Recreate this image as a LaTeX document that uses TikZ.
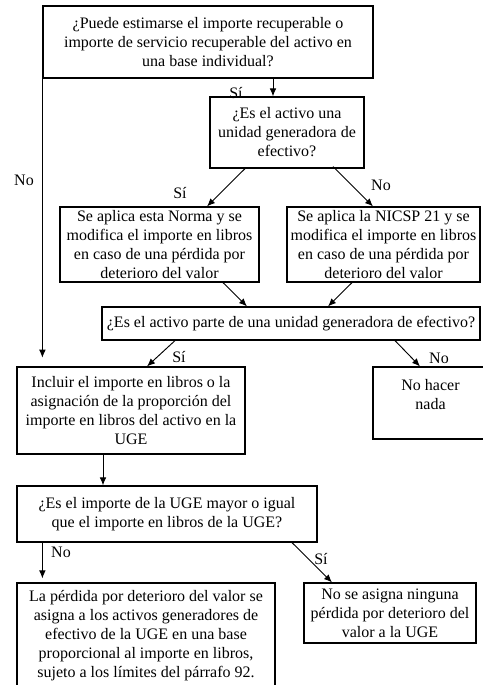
\documentclass[tikz,border=0pt]{standalone}
\usepackage{fontspec}
\setmainfont{Liberation Serif}
\usepackage{tikz}
\usetikzlibrary{arrows.meta,calc}

\begin{document}
\begin{tikzpicture}[x=0.75pt,y=-0.75pt,  box/.style={draw, line width=0.9pt, align=center, inner sep=1pt, font=\fontsize{12}{14.25}\selectfont},  arr/.style={line width=0.7pt, -{Latex[length=6pt,width=5pt]}},  lab/.style={font=\fontsize{12}{14.25}\selectfont}]
\useasboundingbox (0,0) rectangle (482,685);
%%%%%%%%%%%%%%%%%%%%%%%%%%%%%%%%%%%%%%%%%%%%%%%%%%
% boxes
%%%%%%%%%%%%%%%%%%%%%%%%%%%%%%%%%%%%%%%%%%%%%%%%%%
  \node[box, minimum width=247.5pt, minimum height=54pt] (q1) at (208,42)
    {¿Puede estimarse el importe recuperable o\\importe de servicio recuperable del activo en\\una base individual?};
  \node[box, minimum width=115.5pt, minimum height=53.25pt] (q2) at (287,132.5)
    {¿Es el activo una\\unidad generadora de\\efectivo?};
  \node[box, minimum width=149.25pt, minimum height=56.25pt] (norma) at (159.5,244.5)
    {Se aplica esta Norma y se\\modifica el importe en libros\\en caso de una pérdida por\\deterioro del valor};
  \node[box, minimum width=144.75pt, minimum height=56.25pt] (nicsp) at (383.5,244.5)
    {Se aplica la NICSP 21 y se\\modifica el importe en libros\\en caso de una pérdida por\\deterioro del valor};
  \node[box, minimum width=283.5pt, minimum height=24.75pt] (q3) at (291,323.5)
    {¿Es el activo parte de una unidad generadora de efectivo?};
  \node[box, minimum width=171pt, minimum height=65.25pt] (incl) at (131,410.5)
    {Incluir el importe en libros o la\\asignación de la proporción del\\importe en libros del activo en la\\UGE};
  \node[box, minimum width=86.25pt, minimum height=54pt] (nada) at (430.5,403)
    {No hacer\\nada\\[-1pt]};
  \node[box, minimum width=225pt, minimum height=42pt] (q4) at (167,514)
    {¿Es el importe de la UGE mayor o igual\\que el importe en libros de la UGE?};
  \node[box, minimum width=193.5pt, minimum height=78.75pt] (perd) at (146,635.5)
    {La pérdida por deterioro del valor se\\asigna a los activos generadores de\\efectivo de la UGE en una base\\proporcional al importe en libros,\\sujeto a los límites del párrafo 92.};
  \node[box, minimum width=129pt, minimum height=45pt] (ning) at (390,613)
    {No se asigna ninguna\\pérdida por deterioro del\\valor a la UGE};
%%%%%%%%%%%%%%%%%%%%%%%%%%%%%%%%%%%%%%%%%%%%%%%%%%
% arrows
%%%%%%%%%%%%%%%%%%%%%%%%%%%%%%%%%%%%%%%%%%%%%%%%%%
  \draw[arr] ($(q1.south)+(65,0)$) -- ($(q2.north)+(-14,0)$);
  \node[lab] at (236,93) {Sí};
  \draw[arr, shorten >=6.5pt] (q1.south west) -- (q1.south west |- incl.north);
  \node[lab] at (24,180) {No};

  \draw[arr] ($(q2.south)+(-42,0)$) -- ($(norma.north)+(47.5,0)$);
  \node[lab] at (180,193) {Sí};
  \draw[arr] ($(q2.south)+(46,-2)$) -- ($(nicsp.north)+(-10.5,0)$);
  \node[lab] at (381,185) {No};

  \draw[arr] ($(norma.south)+(63.5,0)$) -- ($(q3.north)+(-44,0)$);
  \draw[arr] ($(nicsp.south)+(-31.5,0)$) -- ($(q3.north)+(37,0)$);

  \draw[arr] ($(q3.south)+(-116,0)$) -- ($(incl.north)+(16,0)$);
  \node[lab] at (179,357) {Sí};
  \draw[arr] ($(q3.south)+(104,0)$) -- ($(nada.north)+(-10.5,0)$);
  \node[lab] at (439,358) {No};

  \draw[arr] ($(incl.south)+(-28,0)$) -- ($(q4.north)+(-64,0)$);

  \draw[arr, shorten >=3pt] ($(q4.south west)+(26,0)$) -- ($(perd.north west)+(26,0)$);
  \node[lab] at (61,552) {No};
  \draw[arr] ($(q4.south)+(125,0)$) -- ($(ning.north)+(-58,0)$);
  \node[lab] at (321,559) {Sí};
\end{tikzpicture}
\end{document}
